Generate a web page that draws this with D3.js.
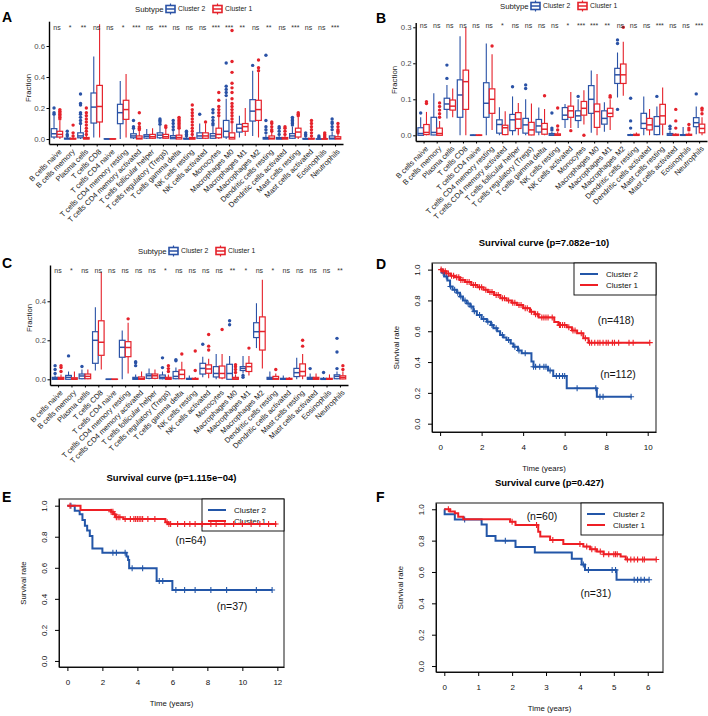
<!DOCTYPE html>
<html><head><meta charset="utf-8">
<script src="https://cdn.jsdelivr.net/npm/d3@7"></script>
<style>
body{margin:0;background:#fff}
svg{display:block}
text{font-family:"Liberation Sans",Arial,Helvetica,sans-serif}
</style>
</head><body>
<svg id="chart" width="708" height="716"></svg>
<script>
// ---------------- DATA ----------------
const cellTypes = ["B cells naive","B cells memory","Plasma cells","T cells CD8","T cells CD4 naive","T cells CD4 memory resting","T cells CD4 memory activated","T cells follicular helper","T cells regulatory (Tregs)","T cells gamma delta","NK cells resting","NK cells activated","Monocytes","Macrophages M0","Macrophages M1","Macrophages M2","Dendritic cells resting","Dendritic cells activated","Mast cells resting","Mast cells activated","Eosinophils","Neutrophils"];
const clusters = ["Cluster 2","Cluster 1"];

const sigA = ["ns","*","**","ns","ns","*","***","ns","***","ns","ns","ns","***","***","**","ns","**","ns","***","ns","ns","***"];
const sigB = ["ns","ns","ns","ns","ns","ns","*","ns","ns","ns","ns","*","***","***","**","ns","ns","ns","***","ns","ns","***"];
const sigC = ["ns","*","ns","ns","ns","ns","ns","ns","*","ns","ns","ns","ns","**","*","ns","*","ns","ns","ns","ns","**"];

// box stats: [lower whisker, q1, median, q3, upper whisker]
const boxA_c2 = [[0,0.013,0.034,0.067,0.15],[0,0,0.002,0.006,0.013],[0,0.008,0.02,0.04,0.09],[0.01,0.103,0.206,0.297,0.533],[0,0,0,0.002,0.003],[0,0.099,0.17,0.224,0.374],[0,0.008,0.02,0.034,0.06],[0,0.006,0.018,0.028,0.065],[0,0.008,0.025,0.04,0.085],[0,0.002,0.01,0.022,0.05],[0,0,0.001,0.005,0.012],[0,0.005,0.02,0.04,0.1],[0,0.005,0.02,0.035,0.08],[0,0.013,0.05,0.12,0.26],[0.01,0.045,0.07,0.095,0.15],[0.02,0.116,0.18,0.254,0.44],[0,0,0.003,0.01,0.03],[0,0,0.002,0.01,0.02],[0,0.005,0.02,0.035,0.08],[0,0,0,0.004,0.01],[0,0,0,0.001,0.003],[0,0,0.005,0.02,0.045]];
const outA_c2 = [[0.16,0.17,0.2],[0.02,0.03,0.05],[0.1,0.12,0.14,0.16,0.17,0.22,0.23,0.29],[],[],[],[0.07,0.08,0.12],[],[0.095,0.11,0.12,0.13],[0.06,0.08,0.1,0.12],[0.02,0.03,0.04,0.05],[0.16],[0.09,0.1,0.12,0.14,0.17,0.19],[0.28,0.3,0.32,0.34,0.49],[],[0.475],[0.04,0.06,0.08,0.12,0.54],[0.03,0.05,0.07,0.08],[0.09,0.1,0.11,0.12,0.13,0.14],[0.02,0.03,0.04],[0.01,0.02],[0.06,0.08,0.1,0.11,0.13]];
const boxA_c1 = [[0,0.013,0.03,0.05,0.12],[0,0,0.001,0.005,0.012],[0,0,0.003,0.01,0.025],[0.01,0.11,0.21,0.346,0.74],[0,0,0,0.002,0.003],[0.01,0.127,0.19,0.25,0.42],[0,0,0.005,0.02,0.05],[0,0.005,0.015,0.03,0.07],[0,0.005,0.015,0.03,0.07],[0,0,0.01,0.025,0.06],[0,0,0.002,0.01,0.025],[0,0.005,0.02,0.04,0.1],[0,0.008,0.03,0.07,0.14],[0,0,0.01,0.04,0.1],[0.02,0.05,0.08,0.1,0.2],[0.01,0.12,0.19,0.25,0.43],[0,0,0.005,0.02,0.045],[0,0,0.003,0.01,0.025],[0,0.013,0.045,0.07,0.14],[0,0,0.001,0.005,0.012],[0,0,0,0.002,0.005],[0,0,0.004,0.015,0.035]];
const outA_c1 = [[0.13,0.14,0.15,0.16,0.17,0.18,0.19],[0.02,0.04,0.09],[0.03,0.05,0.07,0.09,0.11,0.13,0.15,0.17,0.2],[],[],[],[0.06,0.07,0.08,0.1,0.17],[],[0.075,0.085],[0.07,0.08,0.09,0.1,0.11,0.12,0.13,0.14],[0.03,0.05,0.07,0.09,0.11,0.13,0.15,0.17,0.19,0.22],[0.11],[0.15,0.17,0.19,0.21,0.25,0.3],[0.11,0.13,0.15,0.17,0.19,0.21,0.23,0.26,0.3,0.33,0.36,0.43,0.5,0.7],[],[0.44,0.46,0.51],[0.05,0.06,0.08,0.1,0.11],[0.03,0.05,0.07,0.08],[0.15,0.16,0.17],[0.02,0.04,0.06,0.08,0.1,0.12],[0.01,0.02,0.03,0.04],[0.04,0.05,0.06,0.08,0.1]];

const boxB_c2 = [[0,0,0.005,0.021,0.05],[0,0.001,0.008,0.05,0.117],[0.047,0.072,0.087,0.103,0.14],[0,0.05,0.112,0.154,0.275],[0,0,0,0.001,0.002],[0,0.05,0.089,0.146,0.255],[0,0.006,0.03,0.043,0.078],[0,0.013,0.043,0.058,0.108],[0,0.006,0.029,0.047,0.1],[0,0.009,0.026,0.044,0.077],[0,0,0.001,0.005,0.01],[0.02,0.044,0.056,0.077,0.087],[0.02,0.041,0.054,0.068,0.1],[0.007,0.061,0.1,0.138,0.18],[0.01,0.031,0.047,0.068,0.092],[0.105,0.144,0.168,0.186,0.23],[0,0,0,0.002,0.004],[0,0.019,0.033,0.061,0.108],[0,0.002,0.025,0.052,0.08],[0,0,0.001,0.005,0.012],[0,0,0,0.002,0.023],[0.003,0.024,0.035,0.049,0.08]];
const outB_c2 = [[0.062],[],[0.158,0.195],[],[],[],[],[0.135],[0.13,0.14],[],[0.015,0.02,0.062],[],[0.108],[],[],[0.072,0.255,0.265],[0.02,0.04,0.103],[],[0.108],[0.018,0.025],[],[0.115]];
const boxB_c1 = [[0,0.002,0.008,0.03,0.065],[0,0,0.005,0.02,0.04],[0.05,0.07,0.081,0.098,0.13],[0,0.072,0.149,0.181,0.3],[0,0,0,0.001,0.002],[0.015,0.061,0.1,0.129,0.225],[0,0.002,0.021,0.028,0.067],[0,0.019,0.045,0.063,0.09],[0,0.001,0.015,0.036,0.088],[0,0.003,0.017,0.033,0.073],[0,0,0.001,0.004,0.01],[0.02,0.05,0.068,0.081,0.12],[0.03,0.056,0.075,0.094,0.125],[0,0.022,0.066,0.087,0.17],[0.015,0.052,0.061,0.075,0.1],[0.11,0.144,0.168,0.198,0.26],[0,0,0,0.003,0.008],[0,0.015,0.029,0.047,0.073],[0,0.031,0.054,0.086,0.133],[0,0,0,0.003,0.006],[0,0,0.001,0.003,0.008],[0,0.007,0.019,0.031,0.05]];
const outB_c1 = [[0.088,0.093],[0.05,0.06,0.07,0.08,0.09],[],[],[],[0.248],[],[],[],[0.11],[0.015,0.026,0.076],[0.013],[0],[],[0.106,0.11],[0.3],[],[],[],[0.02,0.04,0.072],[0.015,0.02,0.03],[0.06,0.07,0.075]];

const boxC_c2 = [[0,0,0.003,0.01,0.02],[0,0,0.01,0.02,0.04],[0,0.003,0.017,0.027,0.05],[0.045,0.082,0.2,0.244,0.37],[0,0,0,0.001,0.002],[0,0.113,0.164,0.2,0.25],[0,0,0.003,0.01,0.025],[0,0.005,0.018,0.027,0.055],[0,0.003,0.01,0.022,0.04],[0,0.003,0.015,0.04,0.06],[0,0,0.001,0.005,0.02],[0.01,0.027,0.056,0.082,0.115],[0,0.012,0.03,0.065,0.13],[0,0,0.03,0.077,0.12],[0.03,0.045,0.056,0.065,0.12],[0.16,0.214,0.244,0.29,0.39],[0,0,0.003,0.01,0.04],[0,0,0.001,0.005,0.02],[0,0.014,0.034,0.056,0.11],[0,0,0.003,0.01,0.03],[0,0,0,0.005,0.012],[0,0.003,0.015,0.023,0.04]];
const outC_c2 = [[0.03,0.05,0.07],[0.12],[0.066],[],[],[],[0.07,0.085,0.09],[],[0.06,0.11],[0.095,0.1],[],[0.18],[],[0.28,0.3],[0.01,0.02],[],[],[],[],[0.055],[0.035],[0.055,0.14,0.21]];
const boxC_c1 = [[0,0,0.003,0.01,0.025],[0,0,0.002,0.008,0.04],[0,0.003,0.015,0.027,0.05],[0.05,0.123,0.19,0.3,0.55],[0,0,0,0.001,0.002],[0.03,0.116,0.163,0.193,0.29],[0,0,0.003,0.012,0.04],[0,0.005,0.018,0.027,0.05],[0,0,0.003,0.01,0.025],[0,0.003,0.025,0.048,0.09],[0,0,0.001,0.005,0.012],[0.005,0.031,0.053,0.074,0.105],[0,0.007,0.03,0.068,0.13],[0,0,0.002,0.01,0.025],[0.02,0.04,0.065,0.082,0.12],[0.055,0.15,0.245,0.32,0.51],[0,0,0.004,0.015,0.03],[0,0,0.001,0.005,0.012],[0,0.017,0.04,0.079,0.13],[0,0,0.003,0.01,0.03],[0,0,0.001,0.005,0.025],[0,0.002,0.01,0.018,0.04]];
const outC_c1 = [[0.04,0.06,0.07],[],[],[],[],[0.31],[],[],[0.04,0.055,0.07],[0.13],[0.045,0.145],[0.15,0.17,0.23],[0.255],[0.035,0.05,0.065,0.075],[0.16],[],[0.05],[],[0.17,0.2],[],[],[0.05,0.07]];

// Kaplan-Meier steps [time, survival] and censor times
const kmD_c2 = [[0,1],[0.1,0.98],[0.2,0.955],[0.35,0.93],[0.48,0.89],[0.6,0.87],[0.8,0.85],[0.96,0.825],[1.1,0.8],[1.28,0.78],[1.45,0.76],[1.6,0.73],[1.77,0.705],[2.0,0.68],[2.25,0.662],[2.45,0.64],[2.57,0.62],[2.75,0.6],[2.89,0.576],[3.05,0.56],[3.2,0.543],[3.4,0.52],[3.53,0.5],[3.75,0.475],[3.93,0.457],[4.4,0.403],[4.5,0.37],[5.2,0.345],[5.45,0.31],[6.1,0.23],[7.55,0.175],[9.23,0.175]];
const kmD_c1 = [[0,1],[0.1,0.99],[0.3,0.975],[0.5,0.96],[0.7,0.95],[0.96,0.933],[1.2,0.92],[1.5,0.9],[1.8,0.885],[2.09,0.87],[2.3,0.855],[2.6,0.835],[2.9,0.814],[3.2,0.8],[3.45,0.785],[3.7,0.77],[4.0,0.75],[4.33,0.727],[4.55,0.71],[4.75,0.69],[5.5,0.66],[5.7,0.64],[6.1,0.626],[6.35,0.605],[6.6,0.587],[6.9,0.554],[7.15,0.526],[10.1,0.526]];
const censD_c2 = [0.15,0.3,0.5,0.7,0.85,1.0,1.2,1.35,1.5,1.65,1.9,2.1,2.3,2.5,2.7,3.0,3.3,3.6,3.8,4.1,4.5,4.6,4.8,5.0,5.1,5.3,5.6,5.75,5.9,6.0,6.6,7.5,7.7,7.85,9.2];
const censD_c1 = [0.05,0.15,0.25,0.4,0.55,0.65,0.8,0.9,1.0,1.1,1.3,1.4,1.6,1.7,1.9,2.0,2.2,2.4,2.5,2.7,2.8,3.0,3.1,3.3,3.5,3.6,3.8,3.9,4.1,4.2,4.4,4.6,4.7,4.9,5.0,5.1,5.2,5.4,5.75,5.8,5.9,6.0,6.2,6.4,6.5,6.8,7.0,7.2,7.3,7.45,7.6,7.7,7.85,8.0,8.1,8.3,8.4,8.6,9.1,9.3,10.1];

const kmE_c2 = [[0,1],[0.42,0.968],[0.7,0.944],[0.86,0.908],[1.0,0.87],[1.13,0.84],[1.28,0.805],[1.43,0.725],[2.0,0.697],[3.38,0.672],[3.47,0.65],[3.53,0.597],[5.1,0.515],[6.0,0.457],[11.7,0.457]];
const kmE_c1 = [[0,1],[0.75,0.972],[2.5,0.961],[2.62,0.944],[2.75,0.925],[3.2,0.914],[5.6,0.893],[5.75,0.882],[11.95,0.882]];
const censE_c2 = [0.2,2.6,2.8,3.3,3.7,4.3,5.25,5.45,6.2,6.7,7.3,8.2,9.1,10.8,11.7];
const censE_c1 = [0.15,2.5,2.6,2.7,2.8,2.9,3.0,3.3,3.6,3.8,3.9,4.0,4.1,4.2,4.3,4.6,5.0,5.7,5.8,5.9,6.3,6.7,7.0,7.3,7.7,8.2,8.5,9.0,9.5,10.0,10.5,11.0,11.5,11.9];

const kmF_c2 = [[0,1],[0.01,0.968],[0.31,0.935],[1.1,0.903],[1.25,0.83],[1.51,0.8],[2.1,0.76],[2.67,0.724],[3.76,0.685],[4.05,0.647],[4.15,0.613],[5.08,0.55],[6.04,0.55]];
const kmF_c1 = [[0,1],[0.17,0.985],[0.31,0.974],[0.41,0.953],[0.56,0.936],[1.94,0.92],[2.1,0.9],[2.77,0.857],[2.83,0.826],[3.12,0.804],[3.51,0.779],[4.1,0.762],[4.3,0.745],[4.5,0.73],[4.7,0.713],[5.2,0.698],[5.35,0.68],[6.25,0.68]];
const censF_c2 = [0.6,1.8,4.1,4.25,4.95,5.05,5.6,5.7,5.8,5.9,6.04];
const censF_c1 = [0.12,2.0,2.72,3.2,4.0,4.2,4.35,4.45,4.6,4.7,4.85,5.0,5.05,5.1,5.4,5.5,5.6,5.7,5.85,5.9,6.25];

const nLabels = {D:[["(n=418)",8.47,0.673],["(n=112)",8.57,0.323]], E:[["(n=64)",7.06,0.779],["(n=37)",9.41,0.354]], F:[["(n=60)",2.88,0.957],["(n=31)",4.47,0.466]]};
const pTitles = {D:"Survival curve (p=7.082e\u221210)", E:"Survival curve (p=1.115e\u221204)", F:"Survival curve (p=0.427)"};

// ---------------- STYLE ----------------
const boxCol = ["#2A52A6","#E5222B"];
const kmCol = ["#2356A8","#EE1F25"];
const svg = d3.select("#chart");

// ---------------- BOX PANELS ----------------
function boxPanel(cfg){
  const g = svg.append("g");
  const x = d3.scalePoint().domain(cellTypes).range([cfg.x0, cfg.x1]).padding(0.6);
  const y = d3.scaleLinear().domain(cfg.domain).range([cfg.yb, cfg.yt]);
  const step = x.step();
  const bw = step*0.42;
  const ya = g.append("g").attr("transform",`translate(${cfg.x0},0)`)
    .call(d3.axisLeft(y).tickValues(cfg.ticks).tickFormat(d3.format(".1f")).tickSize(2.5).tickSizeOuter(0));
  ya.select(".domain").attr("stroke","#000").attr("stroke-width",1.4);
  ya.selectAll(".tick line").attr("stroke","#000");
  ya.selectAll(".tick text").attr("font-size",7.8).attr("fill","#4d4d4d").attr("x",-4);
  const xa = g.append("g").attr("transform",`translate(0,${cfg.yb})`)
    .call(d3.axisBottom(x).tickSize(2.5).tickSizeOuter(0).tickFormat(""));
  xa.select(".domain").attr("stroke","#000").attr("stroke-width",1.4);
  xa.selectAll(".tick line").attr("stroke","#000");
  g.selectAll(".xlab").data(cellTypes).join("text")
    .attr("transform",d=>`translate(${x(d)+2},${cfg.yb+5}) rotate(-45)`)
    .attr("text-anchor","end").attr("dy","0.6em").attr("font-size",7.5).attr("fill","#1a1a1a").text(d=>d);
  g.append("text").attr("transform",`translate(${cfg.ytx},${cfg.yty}) rotate(-90)`)
    .attr("text-anchor","middle").attr("font-size",7.8).attr("fill","#1a1a1a").text("Fraction");
  [cfg.b2,cfg.b1].forEach((boxes,ci)=>{
    const outs = ci===0?cfg.o2:cfg.o1;
    const col = boxCol[ci];
    const off = ci===0? -step*0.22 : step*0.22;
    boxes.forEach((b,i)=>{
      const cx = x(cellTypes[i])+off;
      const bg = g.append("g");
      bg.append("line").attr("x1",cx).attr("x2",cx).attr("y1",y(b[0])).attr("y2",y(b[1])).attr("stroke",col).attr("stroke-width",1.1);
      bg.append("line").attr("x1",cx).attr("x2",cx).attr("y1",y(b[3])).attr("y2",y(b[4])).attr("stroke",col).attr("stroke-width",1.1);
      bg.append("rect").attr("x",cx-bw/2).attr("width",bw).attr("y",y(b[3])).attr("height",Math.max(0.01,y(b[1])-y(b[3])))
        .attr("fill","#fff").attr("stroke",col).attr("stroke-width",1.2);
      bg.append("line").attr("x1",cx-bw/2).attr("x2",cx+bw/2).attr("y1",y(b[2])).attr("y2",y(b[2])).attr("stroke",col).attr("stroke-width",1.5);
      bg.selectAll("circle").data(outs[i]).join("circle").attr("cx",cx).attr("cy",d=>y(d)).attr("r",1.7).attr("fill",col);
    });
  });
  g.selectAll(".sig").data(cfg.sig).join("text")
    .attr("x",(d,i)=>x(cellTypes[i])).attr("y",y(cfg.sigV)).attr("dy","0.35em")
    .attr("text-anchor","middle").attr("font-size",7).attr("fill","#333").text(d=>d);
  const lg = g.append("g").attr("transform",`translate(${cfg.lx},${cfg.ly})`);
  lg.append("text").attr("x",0).attr("y",0).attr("dy","0.35em").attr("font-size",7.8).attr("fill","#1a1a1a").text("Subtype");
  clusters.forEach((c,ci)=>{
    const kx = ci===0?31:78;
    const col = boxCol[ci];
    lg.append("line").attr("x1",kx+4.5).attr("x2",kx+4.5).attr("y1",-5.5).attr("y2",5.5).attr("stroke",col).attr("stroke-width",1.2);
    lg.append("rect").attr("x",kx).attr("y",-3.5).attr("width",9).attr("height",7).attr("fill","#fff").attr("stroke",col).attr("stroke-width",1.6);
    lg.append("line").attr("x1",kx).attr("x2",kx+9).attr("y1",0).attr("y2",0).attr("stroke",col).attr("stroke-width",1.5);
    lg.append("text").attr("x",kx+12).attr("y",0).attr("dy","0.35em").attr("font-size",6.8).attr("fill","#1a1a1a").text(c);
  });
  svg.append("text").attr("x",cfg.lab[1]).attr("y",cfg.lab[2]).attr("font-size",14).attr("font-weight","bold").attr("fill","#000").text(cfg.lab[0]);
}

boxPanel({x0:49,x1:343,yb:144,yt:21.2,domain:[-0.032,0.76],ticks:[0,0.2,0.4,0.6],b2:boxA_c2,b1:boxA_c1,o2:outA_c2,o1:outA_c1,sig:sigA,sigV:0.716,lx:135,ly:9,ytx:31,yty:88,lab:["A",2,22]});
boxPanel({x0:415.7,x1:707,yb:141,yt:22.6,domain:[-0.0158,0.313],ticks:[0,0.1,0.2,0.3],b2:boxB_c2,b1:boxB_c1,o2:outB_c2,o1:outB_c1,sig:sigB,sigV:0.306,lx:500,ly:6,ytx:397,yty:80,lab:["B",376,23]});
boxPanel({x0:50,x1:348,yb:385,yt:265,domain:[-0.0292,0.586],ticks:[0,0.2,0.4],b2:boxC_c2,b1:boxC_c1,o2:outC_c2,o1:outC_c1,sig:sigC,sigV:0.56,lx:138,ly:251,ytx:32,yty:318,lab:["C",2,268]});

// ---------------- SURVIVAL PANELS ----------------
function survAt(km,t){ let s=km[0][1]; for(const p of km){ if(p[0]<=t) s=p[1]; } return s; }

function survPanel(cfg){
  const g = svg.append("g");
  const b = cfg.box;
  const x = d3.scaleLinear().domain(cfg.xd).range([b.l,b.r]);
  const y = d3.scaleLinear().domain(cfg.yd).range([b.b,b.t]);
  g.append("text").attr("x",(b.l+b.r)/2).attr("y",cfg.titleY).attr("text-anchor","middle")
    .attr("font-size",9.5).attr("font-weight","bold").attr("fill","#000").text(pTitles[cfg.key]);
  g.append("rect").attr("x",b.l).attr("y",b.t).attr("width",b.r-b.l).attr("height",b.b-b.t).attr("fill","none").attr("stroke","#000").attr("stroke-width",0.9);
  const xa = g.append("g").attr("transform",`translate(0,${b.b})`).call(d3.axisBottom(x).tickValues(cfg.xt).tickSize(4).tickSizeOuter(0).tickFormat(d3.format("d")));
  xa.select(".domain").attr("stroke","#000").attr("stroke-width",0.9);
  xa.selectAll(".tick line").attr("stroke","#000");
  xa.selectAll(".tick text").attr("font-size",8).attr("fill","#111").attr("y",12);
  const ya = g.append("g").attr("transform",`translate(${b.l},0)`).call(d3.axisLeft(y).tickValues([0,0.2,0.4,0.6,0.8,1.0]).tickSize(4).tickSizeOuter(0).tickFormat(d3.format(".1f")));
  ya.select(".domain").attr("stroke","#000").attr("stroke-width",0.9);
  ya.selectAll(".tick line").attr("stroke","#000");
  ya.selectAll(".tick text").attr("font-size",8).attr("fill","#111").attr("x",0).attr("dy",0)
    .attr("text-anchor","middle").attr("transform","translate(-12,0) rotate(-90)");
  g.append("text").attr("x",(b.l+b.r)/2).attr("y",b.b+39).attr("text-anchor","middle").attr("font-size",7.8).attr("fill","#111").text("Time (years)");
  g.append("text").attr("transform",`translate(${b.l-33},${(b.t+b.b)/2}) rotate(-90)`).attr("text-anchor","middle").attr("font-size",7.8).attr("fill","#111").text("Survival rate");
  const lg = g.append("g").attr("transform",`translate(${b.r-82},${b.t})`);
  lg.append("rect").attr("width",82).attr("height",32).attr("fill","#fff").attr("stroke","#000").attr("stroke-width",0.9);
  clusters.forEach((c,ci)=>{
    const ly = ci===0?11:22;
    lg.append("line").attr("x1",6).attr("x2",24).attr("y1",ly).attr("y2",ly).attr("stroke",kmCol[ci]).attr("stroke-width",2);
    lg.append("text").attr("x",32).attr("y",ly).attr("dy","0.35em").attr("font-size",8).attr("fill","#111").text(c);
  });
  const line = d3.line().x(d=>x(d[0])).y(d=>y(d[1])).curve(d3.curveStepAfter);
  [[cfg.k2,cfg.c2],[cfg.k1,cfg.c1]].forEach(([km,cens],ci)=>{
    g.append("path").attr("d",line(km)).attr("fill","none").attr("stroke",kmCol[ci]).attr("stroke-width",2);
    g.selectAll(null).data(cens).join("path")
      .attr("d",t=>{const px=x(t),py=y(survAt(km,t));return `M${px-3},${py}H${px+3}M${px},${py-3}V${py+3}`;})
      .attr("stroke",kmCol[ci]).attr("stroke-width",1.1);
  });
  nLabels[cfg.key].forEach(d=>{
    g.append("text").attr("x",x(d[1])).attr("y",y(d[2])).attr("dy","0.35em").attr("text-anchor","middle")
      .attr("font-size",10.5).attr("fill","#111").text(d[0]);
  });
  svg.append("text").attr("x",cfg.lab[0]).attr("y",cfg.lab[1]).attr("font-size",14).attr("font-weight","bold").attr("fill","#000").text(cfg.key);
}

survPanel({key:"D",box:{l:432,r:656,t:263,b:432},xd:[-0.39,10.4],yd:[-0.054,1.043],xt:[0,2,4,6,8,10],titleY:246,k2:kmD_c2,k1:kmD_c1,c2:censD_c2,c1:censD_c1,lab:[376,269]});
survPanel({key:"E",box:{l:59,r:284,t:499,b:667},xd:[-0.48,12.38],yd:[-0.039,1.043],xt:[0,2,4,6,8,10,12],titleY:481,k2:kmE_c2,k1:kmE_c1,c2:censE_c2,c1:censE_c1,lab:[2,502]});
survPanel({key:"F",box:{l:436,r:663,t:503,b:672},xd:[-0.245,6.45],yd:[-0.038,1.04],xt:[0,1,2,3,4,5,6],titleY:486,k2:kmF_c2,k1:kmF_c1,c2:censF_c2,c1:censF_c1,lab:[376,502]});
</script>
</body></html>
